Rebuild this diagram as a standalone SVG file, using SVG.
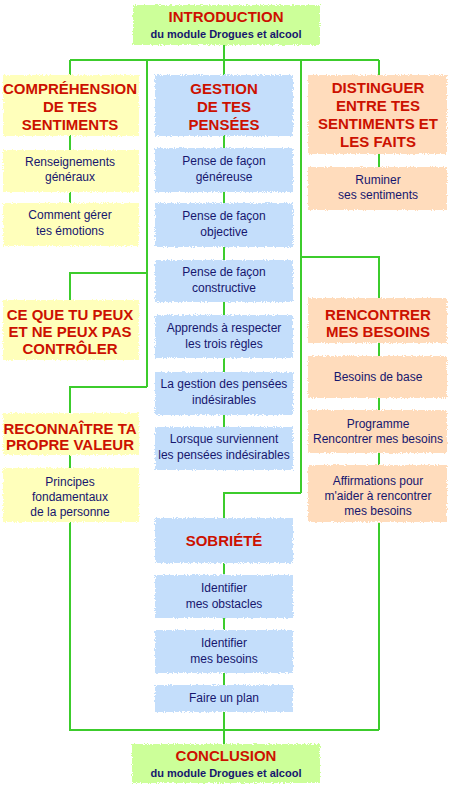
<svg xmlns="http://www.w3.org/2000/svg" width="450" height="788" viewBox="0 0 450 788">
<style>
.t{font-family:"Liberation Sans","DejaVu Sans",sans-serif;font-weight:bold;fill:#cc1100;text-anchor:middle;font-size:15px}
.b{font-family:"Liberation Sans","DejaVu Sans",sans-serif;fill:#16166e;text-anchor:middle;font-size:12px}
.s{font-family:"Liberation Sans","DejaVu Sans",sans-serif;fill:#16166e;text-anchor:middle;font-size:11px;font-weight:bold}
.g{fill:#ccff99}
.y{fill:#ffffbb}
.bl{fill:#c4defb}
.p{fill:#ffdcbc}
#connectors path{fill:none;stroke:#3ccc2c;stroke-width:2}
</style>
<defs>
<filter id="rough" x="-5%" y="-10%" width="110%" height="120%">
<feTurbulence type="fractalNoise" baseFrequency="0.9" numOctaves="2" seed="3"/>
<feDisplacementMap in="SourceGraphic" scale="4" xChannelSelector="R" yChannelSelector="G"/>
</filter>
</defs>
<rect width="450" height="788" fill="#ffffff"/>
<g id="connectors">
<path d="M224 45V75M70 60H379M70 60V75M147 60V387M301 60V493M379 60V75"/>
<path d="M70 135V150M70 192V203M147 273H70V300M147 387H70V413M70 455V468M70 522V730H379M224 712V744"/>
<path d="M224 135V148M224 192V203M224 247V260M224 302V315M224 358V372M224 415V427"/>
<path d="M301 493H224V518M224 563V575M224 618V630M224 673V685"/>
<path d="M379 153V167M301 257H379V298M379 343V356M379 398V410M379 453V465M379 522V730"/>
</g>
<g id="intro"><rect class="g" filter="url(#rough)" x="133" y="5" width="187" height="40"/><text class="t" x="226" y="22">INTRODUCTION</text><text class="s" x="226" y="38">du module Drogues et alcool</text></g>
<g id="comprehension"><rect class="y" filter="url(#rough)" x="3" y="75" width="136" height="61"/><text class="t" x="70" y="94">COMPRÉHENSION</text><text class="t" x="70" y="112">DE TES</text><text class="t" x="70" y="130">SENTIMENTS</text></g>
<g id="renseignements"><rect class="y" filter="url(#rough)" x="3" y="150" width="136" height="42"/><text class="b" x="70" y="166">Renseignements</text><text class="b" x="70" y="181">généraux</text></g>
<g id="comment"><rect class="y" filter="url(#rough)" x="3" y="203" width="136" height="43"/><text class="b" x="70" y="219">Comment gérer</text><text class="b" x="70" y="235">tes émotions</text></g>
<g id="cequetupeux"><rect class="y" filter="url(#rough)" x="3" y="300" width="136" height="60"/><text class="t" x="70" y="320">CE QUE TU PEUX</text><text class="t" x="70" y="337">ET NE PEUX PAS</text><text class="t" x="70" y="354">CONTRÔLER</text></g>
<g id="reconnaitre"><rect class="y" filter="url(#rough)" x="3" y="413" width="136" height="42"/><text class="t" x="70" y="434">RECONNAÎTRE TA</text><text class="t" x="70" y="450">PROPRE VALEUR</text></g>
<g id="principes"><rect class="y" filter="url(#rough)" x="3" y="468" width="136" height="54"/><text class="b" x="70" y="486">Principes</text><text class="b" x="70" y="501">fondamentaux</text><text class="b" x="70" y="516">de la personne</text></g>
<g id="gestion"><rect class="bl" filter="url(#rough)" x="155" y="75" width="138" height="61"/><text class="t" x="224" y="94">GESTION</text><text class="t" x="224" y="112">DE TES</text><text class="t" x="224" y="130">PENSÉES</text></g>
<g id="genereuse"><rect class="bl" filter="url(#rough)" x="155" y="148" width="138" height="44"/><text class="b" x="224" y="165">Pense de façon</text><text class="b" x="224" y="181">généreuse</text></g>
<g id="objective"><rect class="bl" filter="url(#rough)" x="155" y="203" width="138" height="44"/><text class="b" x="224" y="220">Pense de façon</text><text class="b" x="224" y="236">objective</text></g>
<g id="constructive"><rect class="bl" filter="url(#rough)" x="155" y="260" width="138" height="42"/><text class="b" x="224" y="276">Pense de façon</text><text class="b" x="224" y="292">constructive</text></g>
<g id="apprends"><rect class="bl" filter="url(#rough)" x="155" y="315" width="138" height="43"/><text class="b" x="224" y="332">Apprends à respecter</text><text class="b" x="224" y="348">les trois règles</text></g>
<g id="lagestion"><rect class="bl" filter="url(#rough)" x="155" y="372" width="138" height="43"/><text class="b" x="224" y="388">La gestion des pensées</text><text class="b" x="224" y="404">indésirables</text></g>
<g id="lorsque"><rect class="bl" filter="url(#rough)" x="155" y="427" width="138" height="43"/><text class="b" x="224" y="443">Lorsque surviennent</text><text class="b" x="224" y="459">les pensées indésirables</text></g>
<g id="sobriete"><rect class="bl" filter="url(#rough)" x="155" y="518" width="138" height="45"/><text class="t" x="224" y="546">SOBRIÉTÉ</text></g>
<g id="obstacles"><rect class="bl" filter="url(#rough)" x="155" y="575" width="138" height="43"/><text class="b" x="224" y="592">Identifier</text><text class="b" x="224" y="608">mes obstacles</text></g>
<g id="besoins"><rect class="bl" filter="url(#rough)" x="155" y="630" width="138" height="43"/><text class="b" x="224" y="647">Identifier</text><text class="b" x="224" y="663">mes besoins</text></g>
<g id="plan"><rect class="bl" filter="url(#rough)" x="155" y="685" width="138" height="27"/><text class="b" x="224" y="702">Faire un plan</text></g>
<g id="distinguer"><rect class="p" filter="url(#rough)" x="308" y="75" width="139" height="79"/><text class="t" x="378" y="93">DISTINGUER</text><text class="t" x="378" y="111">ENTRE TES</text><text class="t" x="378" y="129">SENTIMENTS ET</text><text class="t" x="378" y="147">LES FAITS</text></g>
<g id="ruminer"><rect class="p" filter="url(#rough)" x="308" y="167" width="139" height="43"/><text class="b" x="378" y="184">Ruminer</text><text class="b" x="378" y="199">ses sentiments</text></g>
<g id="rencontrer"><rect class="p" filter="url(#rough)" x="308" y="298" width="139" height="45"/><text class="t" x="378" y="320">RENCONTRER</text><text class="t" x="378" y="337">MES BESOINS</text></g>
<g id="base"><rect class="p" filter="url(#rough)" x="308" y="356" width="139" height="42"/><text class="b" x="378" y="381">Besoins de base</text></g>
<g id="programme"><rect class="p" filter="url(#rough)" x="308" y="410" width="139" height="43"/><text class="b" x="378" y="428">Programme</text><text class="b" x="378" y="443">Rencontrer mes besoins</text></g>
<g id="affirmations"><rect class="p" filter="url(#rough)" x="308" y="465" width="139" height="57"/><text class="b" x="378" y="485">Affirmations pour</text><text class="b" x="378" y="500">m'aider à rencontrer</text><text class="b" x="378" y="515">mes besoins</text></g>
<g id="conclusion"><rect class="g" filter="url(#rough)" x="132" y="744" width="188" height="39"/><text class="t" x="226" y="761">CONCLUSION</text><text class="s" x="226" y="777">du module Drogues et alcool</text></g>
</svg>
